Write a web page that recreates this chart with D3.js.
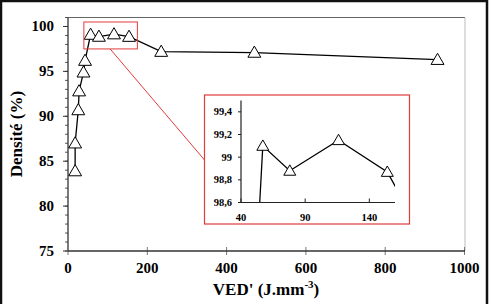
<!DOCTYPE html>
<html><head><meta charset="utf-8">
<script src="https://cdn.jsdelivr.net/npm/d3@7"></script>
<style>
body{margin:0;background:#fff;}
svg text{font-family:"Liberation Serif","Times New Roman",serif;font-weight:bold;fill:#000;}
</style>
</head><body>
<svg id="c" width="492" height="304"></svg>
<script>
// Data
const vedValues = [18, 18, 26, 28, 39, 43, 57, 78, 116, 154, 235, 470, 932];
const densValues = [83.9, 87.0, 90.7, 92.8, 94.9, 96.2, 99.1, 98.88, 99.15, 98.87, 97.2, 97.1, 96.3];
const xTicks = [0, 200, 400, 600, 800, 1000];
const yTicks = [75, 80, 85, 90, 95, 100];
const insetXTicks = [40, 90, 140];
const insetYTicks = [98.6, 98.8, 99.0, 99.2, 99.4];
const zoomRange = {x: [40, 175], y: [97.5, 100.5]};

const data = vedValues.map((v, i) => ({x: v, y: densValues[i]}));
const svg = d3.select("#c");

// outer frame
svg.append("path").attr("d", "M1,304 V1 H487 V304").attr("fill", "none").attr("stroke", "#111").attr("stroke-width", 2.5);

// main scales
const x = d3.scaleLinear().domain([0, 1000]).range([68, 464.5]);
const y = d3.scaleLinear().domain([75, 101]).range([251, 17.5]);

// plot box top/right
svg.append("line").attr("x1", 68).attr("x2", 465).attr("y1", 17.5).attr("y2", 17.5).attr("stroke", "#666");
svg.append("line").attr("x1", 465).attr("x2", 465).attr("y1", 17.5).attr("y2", 251).attr("stroke", "#bbb");

// y axis ticks
const gy = svg.append("g");
gy.selectAll("line.minor").data(d3.range(75, 102)).join("line")
  .attr("x1", 65).attr("x2", 68).attr("y1", d => y(d)).attr("y2", d => y(d)).attr("stroke", "#555");
gy.selectAll("line.major").data(yTicks).join("line")
  .attr("x1", 63).attr("x2", 68).attr("y1", d => y(d)).attr("y2", d => y(d)).attr("stroke", "#333");
gy.selectAll("text").data(yTicks).join("text")
  .attr("x", 54).attr("y", d => y(d) + 5).attr("text-anchor", "end").attr("font-size", 15).text(d => d);
svg.append("line").attr("x1", 68).attr("x2", 68).attr("y1", 17.5).attr("y2", 251.5).attr("stroke", "#333").attr("stroke-width", 1.3);

// x axis
const gx = svg.append("g");
gx.selectAll("line").data(xTicks).join("line")
  .attr("x1", d => x(d)).attr("x2", d => x(d)).attr("y1", 247).attr("y2", 255).attr("stroke", "#777");
gx.selectAll("text").data(xTicks).join("text")
  .attr("x", d => x(d)).attr("y", 273).attr("text-anchor", "middle").attr("font-size", 15).text(d => d);
svg.append("line").attr("x1", 68).attr("x2", 465).attr("y1", 251).attr("y2", 251).attr("stroke", "#333").attr("stroke-width", 1.3);

// axis titles
svg.append("text").attr("transform", "translate(22,134) rotate(-90)").attr("text-anchor", "middle")
  .attr("font-size", 17).text("Densité (%)");
const xt = svg.append("text").attr("x", 266).attr("y", 295).attr("text-anchor", "middle").attr("font-size", 17);
xt.append("tspan").text("VED' (J.mm");
xt.append("tspan").attr("font-size", 11).attr("dy", -7).text("-3");
xt.append("tspan").attr("dy", 7).text(")");

// main line & markers
const line = d3.line().x(d => x(d.x)).y(d => y(d.y));
svg.append("path").datum(data).attr("d", line).attr("fill", "none").attr("stroke", "#000").attr("stroke-width", 1.3);
const tri = d3.symbol().type(d3.symbolTriangle).size(72);
svg.selectAll("path.m").data(data).join("path").attr("class", "m")
  .attr("transform", d => `translate(${x(d.x)},${y(d.y) + 1})`).attr("d", tri)
  .attr("fill", "#fff").attr("stroke", "#000").attr("stroke-width", 1);

// zoom rectangle in main
const rx0 = x(zoomRange.x[0]), rx1 = x(zoomRange.x[1]), ry0 = y(zoomRange.y[1]), ry1 = y(zoomRange.y[0]);
svg.append("rect").attr("x", rx0).attr("y", ry0).attr("width", rx1 - rx0).attr("height", ry1 - ry0)
  .attr("fill", "none").attr("stroke", "#e23b3b").attr("stroke-width", 1);

// inset
const ib = {x: 204.5, y: 95, w: 205, h: 129};
svg.append("line").attr("x1", (rx0 + rx1) / 2 - 0.5).attr("y1", ry1).attr("x2", ib.x).attr("y2", 160)
  .attr("stroke", "#e23b3b").attr("stroke-width", 1);
svg.append("rect").attr("x", ib.x).attr("y", ib.y).attr("width", ib.w).attr("height", ib.h)
  .attr("fill", "#fff").attr("stroke", "#e23b3b").attr("stroke-width", 1.2);

const ix = d3.scaleLinear().domain([40, 160]).range([241, 395]);
const iy = d3.scaleLinear().domain([98.6, 99.5]).range([202.5, 100.5]);
svg.append("clipPath").attr("id", "ic").append("rect").attr("x", 241).attr("y", 100.5).attr("width", 154).attr("height", 102);
const iline = d3.line().x(d => ix(d.x)).y(d => iy(d.y));
svg.append("path").datum(data).attr("d", iline).attr("clip-path", "url(#ic)")
  .attr("fill", "none").attr("stroke", "#000").attr("stroke-width", 1.3);
svg.append("g").attr("clip-path", "url(#ic)").selectAll("path").data(data).join("path")
  .attr("transform", d => `translate(${ix(d.x)},${iy(d.y) + 1})`).attr("d", d3.symbol().type(d3.symbolTriangle).size(62))
  .attr("fill", "#fff").attr("stroke", "#000").attr("stroke-width", 1);

// inset axes
svg.append("line").attr("x1", 241).attr("x2", 241).attr("y1", 100.5).attr("y2", 202.5).attr("stroke", "#222").attr("stroke-width", 1.2);
svg.append("line").attr("x1", 241).attr("x2", 395).attr("y1", 202.5).attr("y2", 202.5).attr("stroke", "#222").attr("stroke-width", 1.2);
svg.selectAll("line.iyt").data(insetYTicks).join("line").attr("class", "iyt")
  .attr("x1", 238).attr("x2", 241).attr("y1", d => iy(d)).attr("y2", d => iy(d)).attr("stroke", "#222");
svg.selectAll("text.iyl").data(insetYTicks).join("text").attr("class", "iyl")
  .attr("x", 232).attr("y", d => iy(d) + 3.5).attr("text-anchor", "end").attr("font-size", 10.5)
  .text(d => d3.format(",")(d).replace(".", ","));
svg.selectAll("line.ixt").data(insetXTicks).join("line").attr("class", "ixt")
  .attr("x1", d => ix(d)).attr("x2", d => ix(d)).attr("y1", 198.5).attr("y2", 202.5).attr("stroke", "#222");
svg.selectAll("text.ixl").data(insetXTicks).join("text").attr("class", "ixl")
  .attr("x", d => ix(d)).attr("y", 221).attr("text-anchor", "middle").attr("font-size", 10.5).text(d => d);
</script>
</body></html>
